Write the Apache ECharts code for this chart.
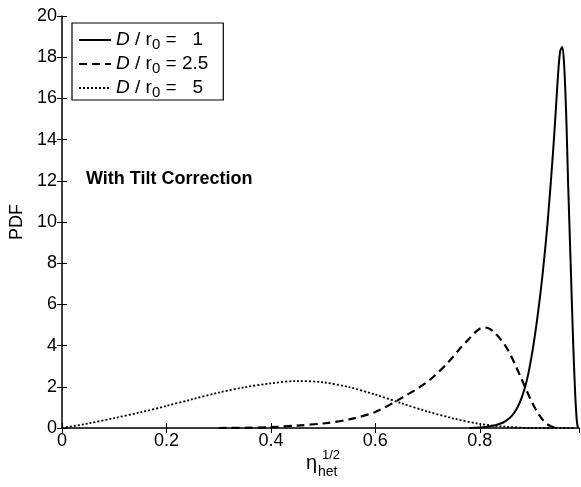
<!DOCTYPE html>
<html><head><meta charset="utf-8">
<script src="https://cdn.jsdelivr.net/npm/echarts@6/dist/echarts.min.js"></script>
<style>html,body{margin:0;padding:0;background:#fff}#c{width:581px;height:487px}</style>
</head><body><div id="c"></div>
<script>
// D/r0 = 1 (solid)
const xSolid = [0.78,0.80,0.82,0.84,0.85,0.86,0.87,0.88,0.89,0.90,0.91,0.92,0.93,0.94,0.945,0.95,0.954,0.958,0.962,0.966,0.969,0.974,0.979,0.983,0.986,0.988];
const ySolid = [0,0.02,0.08,0.22,0.35,0.55,0.9,1.45,2.3,3.6,5.3,7.4,10.0,13.3,15.2,17.2,18.3,18.5,17.4,14.8,12.0,8.0,4.0,1.5,0.3,0];
// D/r0 = 2.5 (dashed)
const xDash = [0.30,0.35,0.40,0.45,0.50,0.55,0.60,0.65,0.70,0.74,0.76,0.78,0.79,0.80,0.81,0.82,0.83,0.84,0.85,0.86,0.87,0.88,0.89,0.90,0.91,0.92,0.93,0.94,0.95];
const yDash = [0,0.01,0.04,0.12,0.22,0.42,0.78,1.45,2.25,3.2,3.8,4.35,4.62,4.82,4.88,4.8,4.58,4.3,3.95,3.5,2.95,2.38,1.8,1.25,0.78,0.42,0.17,0.05,0];
// D/r0 = 5 (dotted)
const xDot = [0,0.05,0.1,0.15,0.2,0.25,0.3,0.35,0.4,0.45,0.5,0.55,0.6,0.65,0.7,0.75,0.8,0.85,0.9,0.98];
const yDot = [0,0.22,0.48,0.76,1.07,1.4,1.72,1.98,2.17,2.28,2.22,1.98,1.62,1.2,0.8,0.46,0.2,0.06,0,0];
const seriesNames = ['1','2.5','5'];
const legendValues = {'1':'  1','2.5':'2.5','5':'  5'};

const zip = (a,b)=>a.map((v,i)=>[v,b[i]]);
const FONT = 'Liberation Sans, Arial, sans-serif';
const chart = echarts.init(document.getElementById('c'));
chart.setOption({
  animation:false,
  grid:{left:62,right:2,top:16,bottom:59,containLabel:false},
  legend:{
    orient:'vertical', left:72, top:23,
    backgroundColor:'#fff', borderColor:'#000', borderWidth:1.2,
    padding:[5,15,0,6], itemGap:0, itemWidth:32, itemHeight:8,
    itemStyle:{opacity:0},
    data:seriesNames,
    formatter:n=>'{i|D} / r{s|0} = '+legendValues[n],
    textStyle:{fontFamily:FONT,fontSize:19,color:'#000',lineHeight:24,
      rich:{i:{fontStyle:'italic',fontFamily:FONT,fontSize:19,color:'#000',lineHeight:24},
            s:{fontSize:15,fontFamily:FONT,color:'#000',lineHeight:6,verticalAlign:'bottom'}}}
  },
  xAxis:[{
    type:'value',min:0,max:0.99,interval:0.2,
    axisLine:{lineStyle:{color:'#000',width:1.5}},
    axisTick:{inside:true,length:5,lineStyle:{color:'#000'}},
    axisLabel:{showMaxLabel:false,color:'#000',fontFamily:FONT,fontSize:18,margin:4,
      formatter:v=>v===0?'0':String(v)},
    splitLine:{show:false}
  },{
    type:'value',min:0,max:0.99,interval:0.2,position:'top',
    axisLine:{show:true,lineStyle:{color:'#333',width:1,type:[2,2]}},
    axisTick:{inside:true,length:5,lineStyle:{color:'#000'}},
    axisLabel:{show:false},splitLine:{show:false}
  }],
  yAxis:[{
    type:'value',min:0,max:20,interval:2,
    name:'PDF',nameLocation:'middle',nameGap:31,
    nameTextStyle:{color:'#000',fontFamily:FONT,fontSize:18},
    axisLine:{show:true,lineStyle:{color:'#000',width:1.5}},
    axisTick:{inside:true,length:5,lineStyle:{color:'#000'}},
    axisLabel:{color:'#000',fontFamily:FONT,fontSize:18,margin:5},
    splitLine:{show:false}
  },{
    type:'value',min:0,max:20,interval:2,position:'right',
    axisLine:{show:false},
    axisTick:{show:true,inside:true,length:5,lineStyle:{color:'#000'}},
    axisLabel:{show:false},splitLine:{show:false}
  }],
  series:[
    {name:'1',type:'line',data:zip(xSolid,ySolid),smooth:0.3,symbol:'none',
     lineStyle:{color:'#000',width:2,type:'solid'},itemStyle:{color:'#000'}},
    {name:'2.5',type:'line',data:zip(xDash,yDash),smooth:0.3,symbol:'none',
     lineStyle:{color:'#000',width:2.2,type:[8,5]},itemStyle:{color:'#000'}},
    {name:'5',type:'line',data:zip(xDot,yDot),smooth:0.3,symbol:'none',
     lineStyle:{color:'#000',width:1.8,type:[2,2]},itemStyle:{color:'#000'}}
  ],
  graphic:[
    {type:'text',left:86,top:170,style:{text:'With Tilt Correction',fontFamily:FONT,fontWeight:'bold',fontSize:18,fill:'#000'}},
    {type:'text',left:306,top:453,style:{text:'η',fontFamily:FONT,fontSize:20,fill:'#000'}},
    {type:'text',left:322,top:449,style:{text:'1/2',fontFamily:FONT,fontSize:13,fill:'#000'}},
    {type:'text',left:318,top:465,style:{text:'het',fontFamily:FONT,fontSize:14,fill:'#000'}}
  ]
});
</script></body></html>
